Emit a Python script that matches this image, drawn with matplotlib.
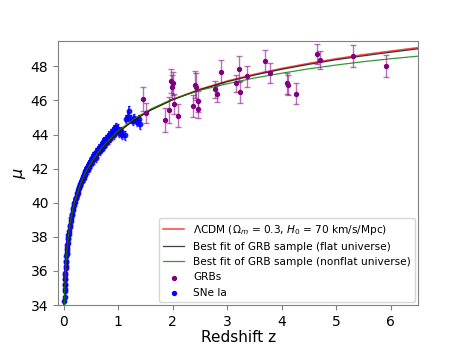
import numpy as np
import matplotlib
matplotlib.use("Agg")
import matplotlib.pyplot as plt

# Кривi моделей
z_model = [0.012, 0.015, 0.02, 0.03, 0.04, 0.05, 0.07, 0.1, 0.15, 0.2, 0.3, 0.4, 0.5,
           0.7, 1.0, 1.3, 1.6, 2.0, 2.5, 3.0, 3.5, 4.0, 4.5, 5.0, 5.5, 6.0, 6.5]
mu_lcdm = [33.57, 34.06, 34.69, 35.59, 36.23, 36.72, 37.48, 38.30, 39.25, 39.94, 40.94, 41.68, 42.26,
           43.16, 44.14, 44.87, 45.45, 46.06, 46.66, 47.14, 47.54, 47.88, 48.18, 48.45, 48.69, 48.90, 49.10]
mu_flat = [33.57, 34.06, 34.69, 35.59, 36.23, 36.72, 37.48, 38.30, 39.25, 39.94, 40.94, 41.68, 42.26,
           43.16, 44.14, 44.87, 45.44, 46.04, 46.63, 47.10, 47.49, 47.83, 48.12, 48.39, 48.62, 48.83, 49.03]
mu_nonflat = [33.57, 34.07, 34.71, 35.61, 36.26, 36.76, 37.53, 38.36, 39.31, 40.01, 41.02, 41.76, 42.34,
              43.24, 44.22, 44.94, 45.50, 46.08, 46.60, 46.98, 47.32, 47.60, 47.86, 48.08, 48.28, 48.45, 48.60]

# Гамма-спалахи
grb_z = [1.45, 1.52, 1.86, 1.94, 1.97, 1.98, 2.00, 2.02, 2.10, 2.38, 2.41, 2.43, 2.46, 2.47, 2.77,
         2.82, 2.88, 3.16, 3.22, 3.24, 3.36, 3.69, 3.78, 4.10, 4.11, 4.27, 4.65, 4.70, 5.30, 5.91]
grb_mu = [46.10, 45.26, 44.85, 45.45, 47.16, 46.77, 47.00, 45.80, 45.10, 45.70, 46.93, 46.80, 45.95, 45.50, 46.67,
          46.40, 47.70, 47.00, 47.85, 46.50, 47.42, 48.30, 47.60, 47.00, 46.90, 46.40, 48.75, 48.37, 48.60, 48.00]
grb_err = [0.72, 0.60, 0.70, 0.75, 0.70, 0.70, 0.65, 0.60, 0.68, 0.65, 0.80, 0.80, 0.60, 0.50, 0.50,
           0.50, 0.66, 0.50, 0.75, 0.65, 0.60, 0.65, 0.60, 0.60, 0.60, 0.60, 0.59, 0.55, 0.65, 0.65]

# Наднові Ia
sn_z = [0.012, 0.014, 0.016, 0.018, 0.020, 0.022, 0.024, 0.026, 0.028, 0.030, 0.032, 0.035, 0.038,
        0.041, 0.045, 0.048, 0.052, 0.055, 0.058, 0.062, 0.066, 0.070, 0.075, 0.080, 0.085, 0.090,
        0.095, 0.10, 0.11, 0.12, 0.13, 0.14, 0.15, 0.16, 0.17, 0.18, 0.19, 0.20, 0.21, 0.22, 0.23,
        0.24, 0.25, 0.26, 0.27, 0.28, 0.29, 0.30, 0.31, 0.32, 0.33, 0.34, 0.35, 0.36, 0.37, 0.38,
        0.39, 0.40, 0.42, 0.43, 0.44, 0.45, 0.46, 0.47, 0.48, 0.49, 0.50, 0.51, 0.52, 0.53, 0.54,
        0.55, 0.56, 0.58, 0.59, 0.60, 0.62, 0.63, 0.64, 0.65, 0.66, 0.68, 0.69, 0.70, 0.72, 0.73,
        0.74, 0.75, 0.77, 0.78, 0.80, 0.81, 0.83, 0.84, 0.86, 0.87, 0.89, 0.90, 0.92, 0.93, 0.95,
        0.96, 0.98, 1.00, 1.02, 1.05, 1.08, 1.12, 1.15, 1.19, 1.20, 1.23, 1.27, 1.30, 1.34, 1.38, 1.41]
sn_mu = [33.55, 33.90, 34.25, 34.45, 34.80, 34.95, 35.20, 35.25, 35.50, 35.55, 35.75, 35.90, 36.15,
         36.30, 36.55, 36.60, 36.85, 37.00, 37.05, 37.20, 37.35, 37.55, 37.65, 37.85, 37.95, 38.10,
         38.15, 38.35, 38.55, 38.70, 38.95, 39.10, 39.30, 39.35, 39.60, 39.70, 39.85, 40.00, 40.05,
         40.25, 40.30, 40.45, 40.55, 40.60, 40.75, 40.85, 40.90, 41.05, 41.10, 41.20, 41.25, 41.35,
         41.45, 41.50, 41.45, 41.70, 41.65, 41.85, 41.90, 42.05, 41.95, 42.15, 42.25, 42.10, 42.40,
         42.25, 42.45, 42.30, 42.60, 42.45, 42.70, 42.55, 42.75, 42.80, 42.65, 42.95, 42.90, 43.10,
         42.95, 43.20, 43.05, 43.30, 43.15, 43.40, 43.30, 43.55, 43.35, 43.60, 43.50, 43.75, 43.65,
         43.85, 43.70, 43.95, 43.80, 44.05, 43.95, 44.20, 44.00, 44.30, 44.20, 44.45, 44.30, 44.35,
         44.10, 44.20, 44.00, 43.95, 44.90, 45.05, 45.40, 44.90, 44.80, 44.95, 44.75, 44.90, 44.60]
sn_err = 0.25

fig = plt.figure(figsize=(4.65, 3.49), dpi=100)
ax = fig.add_axes([0.125, 0.126, 0.774, 0.757])

ax.errorbar(sn_z, sn_mu, yerr=sn_err, fmt='o', color='blue', ms=3.2, elinewidth=1.2,
            capsize=1, alpha=0.85, zorder=1)

ax.plot(z_model, mu_lcdm, color='red', lw=1.1, alpha=0.75, zorder=2,
        label=r'$\Lambda$CDM ($\Omega_m$ = 0.3, $H_0$ = 70 km/s/Mpc)')
ax.plot(z_model, mu_flat, color='black', lw=0.9, alpha=0.75, zorder=2,
        label='Best fit of GRB sample (flat universe)')
ax.plot(z_model, mu_nonflat, color='green', lw=0.9, alpha=0.8, zorder=2,
        label='Best fit of GRB sample (nonflat universe)')

ax.errorbar(grb_z, grb_mu, yerr=grb_err, fmt='none', ecolor='purple', elinewidth=1,
            capsize=2, alpha=0.55, zorder=3)
ax.scatter(grb_z, grb_mu, color='purple', s=8, zorder=4, label='GRBs')
ax.scatter([], [], color='blue', s=8, label='SNe Ia')

ax.set_xlim(-0.1, 6.5)
ax.set_ylim(34, 49.5)
ax.set_xticks([0, 1, 2, 3, 4, 5, 6])
ax.set_yticks([34, 36, 38, 40, 42, 44, 46, 48])
ax.tick_params(labelsize=10, color='#808080')
ax.set_xlabel('Redshift z', fontsize=11, labelpad=1)
ax.set_ylabel(r'$\mu$', fontsize=11.5, labelpad=2)
for s in ax.spines.values():
    s.set_color('#808080')

ax.legend(loc='lower right', fontsize=7.6, handlelength=2, borderaxespad=0.3,
          labelspacing=0.5)

fig.savefig('out.png', dpi=100)
